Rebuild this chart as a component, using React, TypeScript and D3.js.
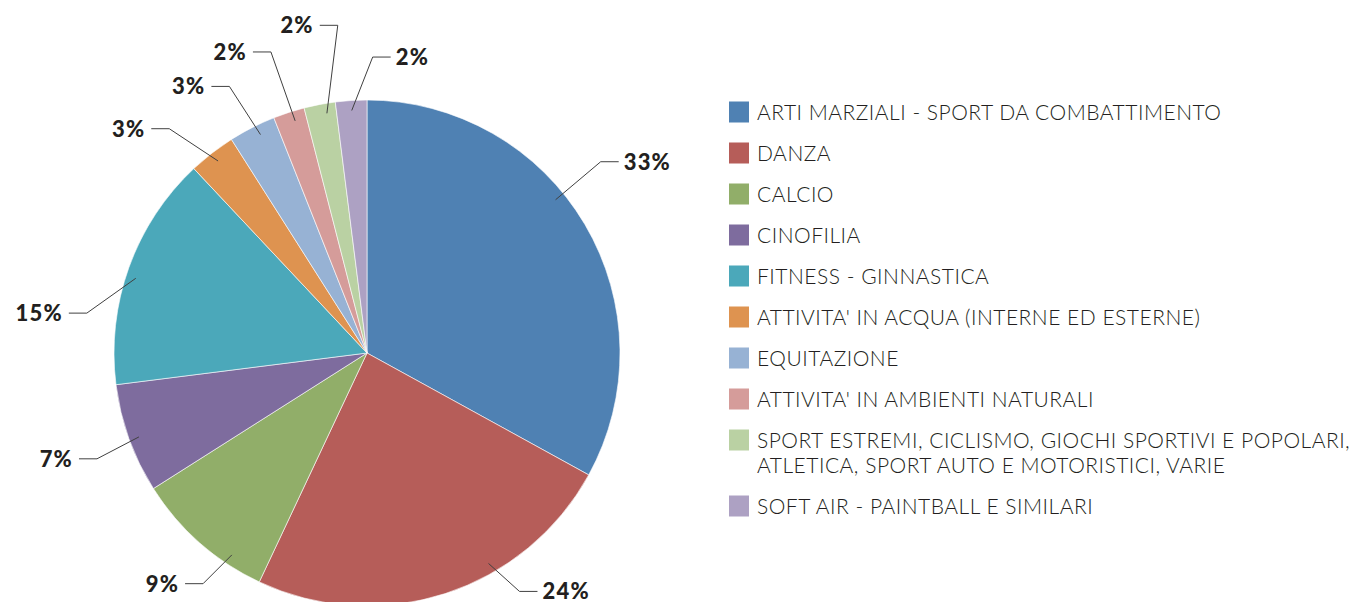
import React from "react";
import * as d3 from "d3";

const categories = [
  "ARTI MARZIALI - SPORT DA COMBATTIMENTO",
  "DANZA",
  "CALCIO",
  "CINOFILIA",
  "FITNESS - GINNASTICA",
  "ATTIVITA' IN ACQUA (INTERNE ED ESTERNE)",
  "EQUITAZIONE",
  "ATTIVITA' IN AMBIENTI NATURALI",
  "SPORT ESTREMI, CICLISMO, GIOCHI SPORTIVI E POPOLARI,\nATLETICA, SPORT AUTO E MOTORISTICI, VARIE",
  "SOFT AIR - PAINTBALL E SIMILARI",
];
const values = [33, 24, 9, 7, 15, 3, 3, 2, 2, 2];
const colors = [
  "#4F81B3",
  "#B65D59",
  "#91AE69",
  "#7E6C9E",
  "#4BA8BA",
  "#DE9350",
  "#97B2D4",
  "#D59C9A",
  "#BAD1A3",
  "#ADA1C3",
];

// label leader layout (degrees relative to slice mid angle, and elbow radius)
const leaderStartShift = [-8.5, -12, -7.6, -0.4, -1.9, 0, 1, 0.8, 1.3, 0];
const leaderElbowShift = [-8.7, -14.6, -6, -1.6, -11.7, -3.6, -0.3, 0.3, 5.7, 4.7];
const leaderElbowRadius = [302, 283, 283, 290, 283, 299, 300, 316, 329, 296];

const W = 1353;
const H = 602;
const cx = 367;
const cy = 353;
const R = 253;

export default function App() {
  const pie = d3
    .pie<number>()
    .sort(null)
    .value((d) => d)
    .startAngle(0)
    .endAngle(2 * Math.PI);
  const arcs = pie(values);
  const arc = d3.arc<d3.PieArcDatum<number>>().innerRadius(0).outerRadius(R);
  const total = d3.sum(values);
  const toRad = Math.PI / 180;
  const polar = (a: number, r: number) => [r * Math.sin(a), -r * Math.cos(a)];

  const legendX = 729;
  const legendTop = 112;
  const rowStep = 41;
  const lineStep = 25;
  let yCursor = legendTop;
  const legendRows = categories.map((c, i) => {
    const lines = c.split("\n");
    const y = yCursor;
    yCursor += rowStep + (lines.length - 1) * lineStep;
    return { lines, y, i };
  });

  return (
    <div style={{ position: "fixed", left: 0, top: 0, width: W, height: H, background: "#fff" }}>
      <svg width={W} height={H} style={{ display: "block" }}>
        <g transform={`translate(${cx},${cy})`}>
          {arcs.map((a, i) => (
            <path key={i} d={arc(a) as string} fill={colors[i]} stroke="#ffffff" strokeWidth={0.6} />
          ))}
          {arcs.map((a, i) => {
            const mid = (a.startAngle + a.endAngle) / 2;
            const s = polar(mid + leaderStartShift[i] * toRad, R - 10);
            const e = polar(mid + leaderElbowShift[i] * toRad, leaderElbowRadius[i]);
            const right = e[0] > 0;
            const hx = e[0] + (right ? 18 : -18);
            const tx = hx + (right ? 5 : -6);
            const pct = Math.round((values[i] / total) * 100) + "%";
            return (
              <g key={"l" + i}>
                <polyline
                  points={`${s[0]},${s[1]} ${e[0]},${e[1]} ${hx},${e[1]}`}
                  fill="none"
                  stroke="#404040"
                  strokeWidth={1}
                />
                <text
                  x={tx}
                  y={e[1]}
                  dy="0.36em"
                  textAnchor={right ? "start" : "end"}
                  fontFamily="Lato, 'DejaVu Sans', sans-serif"
                  fontWeight={900}
                  fontSize={22}
                  letterSpacing={1.2}
                  fill="#231F20"
                >
                  {pct}
                </text>
              </g>
            );
          })}
        </g>
        <g>
          {legendRows.map((row) => (
            <g key={"lg" + row.i}>
              <rect x={legendX} y={row.y - 10.5} width={20} height={21} fill={colors[row.i]} />
              {row.lines.map((ln, j) => (
                <text
                  key={j}
                  x={legendX + 28}
                  y={row.y + j * lineStep}
                  dy="0.36em"
                  fontFamily="Lato, 'DejaVu Sans', sans-serif"
                  fontWeight={300}
                  fontSize={21}
                  letterSpacing={0.5}
                  fill="#231F20"
                >
                  {ln}
                </text>
              ))}
            </g>
          ))}
        </g>
      </svg>
    </div>
  );
}
